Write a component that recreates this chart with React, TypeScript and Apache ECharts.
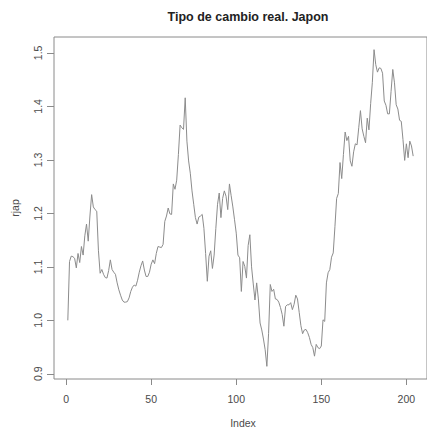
import React, { useEffect, useRef } from "react";
import * as echarts from "echarts";

const title = "Tipo de cambio real. Japon";
const xName = "Index";
const yName = "rjap";
const xTicks = [0, 50, 100, 150, 200];
const yTicks = [0.9, 1.0, 1.1, 1.2, 1.3, 1.4, 1.5];
const yTickLabels = ["0.9", "1.0", "1.1", "1.2", "1.3", "1.4", "1.5"];

const rjap1 = [
  1.0, 1.11, 1.12, 1.119, 1.116, 1.098, 1.125, 1.108, 1.138, 1.122,
  1.158, 1.18, 1.148, 1.195, 1.235, 1.212, 1.207, 1.204, 1.13, 1.088,
  1.095, 1.086, 1.08, 1.079, 1.093, 1.113, 1.095, 1.09, 1.086, 1.07,
  1.057, 1.047, 1.038, 1.034, 1.034, 1.035, 1.042, 1.054, 1.062, 1.066,
  1.064, 1.075, 1.09, 1.102, 1.111, 1.094, 1.082, 1.082, 1.09, 1.105,
];
const rjap2 = [
  1.113, 1.106, 1.125, 1.138, 1.137, 1.136, 1.142, 1.185, 1.195, 1.21,
  1.199, 1.198, 1.255, 1.245, 1.262, 1.31, 1.365, 1.36, 1.357, 1.416,
  1.335, 1.298, 1.275, 1.242, 1.217, 1.192, 1.18, 1.193, 1.195, 1.198,
  1.172, 1.125, 1.073, 1.12, 1.13, 1.097, 1.122, 1.172, 1.217, 1.238,
  1.192, 1.228, 1.242, 1.232, 1.207, 1.255, 1.233, 1.212, 1.188, 1.163,
  1.122, 1.117,
];
const rjap3 = [
  1.054, 1.11, 1.101, 1.079, 1.14, 1.16, 1.1, 1.068, 1.038, 1.07,
  1.04, 0.995, 0.982, 0.965, 0.945, 0.914, 0.975, 1.067, 1.054, 1.058,
  1.04, 1.039, 1.034, 1.024, 1.011, 0.989, 1.026, 1.029, 1.029, 1.033,
  1.02, 1.03, 1.047, 1.04, 1.015, 0.99, 0.975, 0.982, 0.983, 0.977,
  0.968, 0.955, 0.949, 0.933, 0.955, 0.949, 0.947, 0.952, 1.001, 0.998,
  1.07, 1.089,
];
const rjap4 = [
  1.095, 1.118, 1.126, 1.175, 1.228, 1.237, 1.295, 1.265, 1.31, 1.352,
  1.336, 1.344, 1.298, 1.288, 1.315, 1.33, 1.328, 1.36, 1.392, 1.358,
  1.344, 1.332, 1.378, 1.356, 1.405, 1.445, 1.506, 1.478, 1.464, 1.472,
  1.471, 1.462, 1.41, 1.402, 1.386, 1.386, 1.428, 1.469, 1.444, 1.403,
  1.395, 1.374, 1.372, 1.338, 1.299, 1.33, 1.304, 1.335, 1.326, 1.307,
];

const rjap = [...rjap1, ...rjap2, ...rjap3, ...rjap4];

export default function App() {
  const ref = useRef<HTMLDivElement>(null);
  useEffect(() => {
    document.body.style.margin = "0";
    const chart = echarts.init(ref.current!, null, { renderer: "svg" });
    const n = rjap.length;
    const dataMin = Math.min(...rjap);
    const dataMax = Math.max(...rjap);
    const ext = (dataMax - dataMin) * 0.04;
    const xExt = (n - 1) * 0.04;
    const gridLeft = 54;
    const gridTop = 37;
    const gridWidth = 378;
    const gridHeight = 342;
    const textColor = "#4a4a4a";
    const axisColor = "#8a8a8a";
    chart.setOption({
      animation: false,
      backgroundColor: "#fff",
      title: {
        text: title,
        left: gridLeft + gridWidth / 2,
        textAlign: "center",
        top: 5,
        textStyle: {
          fontFamily: "Liberation Sans",
          fontSize: 12.5,
          fontWeight: "bold",
          color: "#222",
        },
      },
      grid: {
        left: gridLeft,
        top: gridTop,
        width: gridWidth,
        height: gridHeight,
        show: true,
        borderColor: axisColor,
        borderWidth: 1,
        backgroundColor: "transparent",
      },
      xAxis: {
        type: "value",
        min: 1 - xExt,
        max: n + xExt,
        splitLine: { show: false },
        axisLine: { show: false, onZero: false },
        axisTick: {
          show: true,
          length: 6,
          customValues: xTicks,
          lineStyle: { color: axisColor },
        },
        axisLabel: {
          customValues: xTicks,
          margin: 14,
          fontFamily: "Liberation Sans",
          fontSize: 10.5,
          color: textColor,
        },
      },
      yAxis: {
        type: "value",
        min: dataMin - ext,
        max: dataMax + ext,
        splitLine: { show: false },
        axisLine: { show: false, onZero: false },
        axisTick: {
          show: true,
          length: 7,
          customValues: yTicks,
          lineStyle: { color: axisColor },
        },
        axisLabel: {
          customValues: yTicks,
          rotate: 90,
          margin: 11,
          fontFamily: "Liberation Sans",
          fontSize: 10.5,
          color: textColor,
          formatter: (v: number) => {
            const i = yTicks.findIndex((t) => Math.abs(t - v) < 1e-6);
            return i >= 0 ? yTickLabels[i] : "";
          },
        },
      },
      graphic: [
        {
          type: "text",
          x: gridLeft + gridWidth / 2,
          y: 423,
          style: {
            text: xName,
            fill: textColor,
            font: "10.5px 'Liberation Sans'",
            textAlign: "center",
            textVerticalAlign: "middle",
          },
        },
        {
          type: "text",
          x: 15,
          y: 208,
          rotation: Math.PI / 2,
          style: {
            text: yName,
            fill: textColor,
            font: "10.5px 'Liberation Sans'",
            textAlign: "center",
            textVerticalAlign: "middle",
          },
        },
      ],
      series: [
        {
          type: "line",
          data: rjap.map((v, i) => [i + 1, v]),
          showSymbol: false,
          symbol: "none",
          lineStyle: { color: "#8c8c8c", width: 1 },
          clip: true,
        },
      ],
    });
    return () => chart.dispose();
  }, []);
  return (
    <div
      ref={ref}
      style={{ position: "absolute", left: 0, top: 0, width: 427, height: 429 }}
    />
  );
}
